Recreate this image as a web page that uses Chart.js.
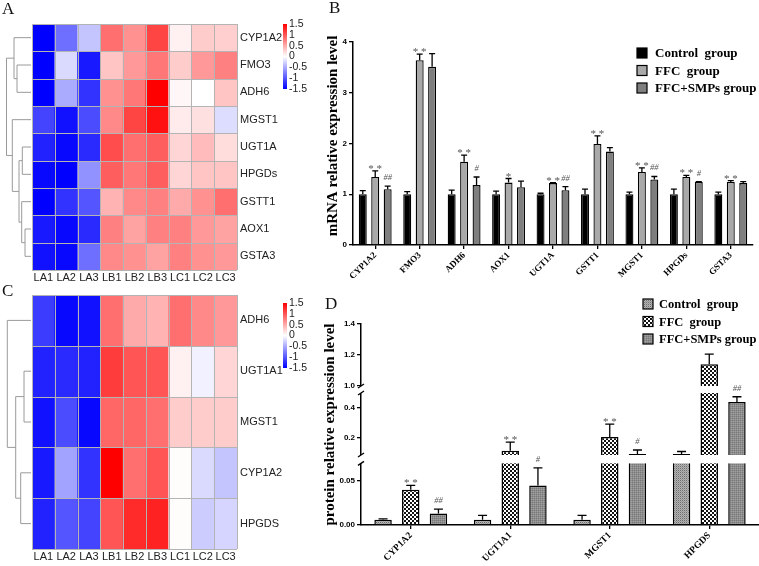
<!DOCTYPE html>
<html><head><meta charset="utf-8">
<script src="https://cdn.jsdelivr.net/npm/chart.js@4/dist/chart.umd.min.js"></script>
<style>
html,body{margin:0;padding:0;background:#fff;}
body{width:759px;height:566px;position:relative;overflow:hidden;}
.box{position:absolute;}
.box canvas{display:block;}
.lab{position:absolute;font-family:"Liberation Serif","Times New Roman",serif;font-size:17px;color:#111;line-height:1;}
</style></head><body>
<div class="box" style="left:0;top:0;"><canvas id="ca" width="330" height="285"></canvas></div>
<div class="box" style="left:0;top:280px;"><canvas id="cc" width="330" height="286"></canvas></div>
<div class="box" style="left:300px;top:0;"><canvas id="cb" width="459" height="285"></canvas></div>
<div class="box" style="left:300px;top:280px;"><canvas id="cd" width="459" height="286"></canvas></div>
<div class="lab" style="left:2px;top:0px;">A</div>
<div class="lab" style="left:329px;top:-1px;">B</div>
<div class="lab" style="left:2px;top:282px;">C</div>
<div class="lab" style="left:325px;top:295px;">D</div>
<script>
// ---------------- DATA ----------------
const heatCols = ['LA1','LA2','LA3','LB1','LB2','LB3','LC1','LC2','LC3'];
const colorbarLabels = ['1.5','1','0.5','0','-0.5','-1','-1.5'];

const heatRowsA = ['CYP1A2','FMO3','ADH6','MGST1','UGT1A','HPGDs','GSTT1','AOX1','GSTA3'];
const heatValsA = [
  [-1.5,-0.85,-0.35, 0.85, 0.65, 1.10, 0.08, 0.30, 0.28],
  [-1.5,-0.22,-1.35, 0.35, 0.60, 0.80, 0.30, 0.60, 0.75],
  [-1.5,-0.50,-1.20, 0.65, 0.80, 1.50, 0.05, 0.00, 0.35],
  [-1.10,-1.40,-1.05, 0.70, 1.10, 1.40, 0.12, 0.18,-0.20],
  [-1.30,-1.45,-1.25, 1.05, 0.85, 0.95, 0.25, 0.40, 0.20],
  [-1.45,-1.50,-0.65, 0.95, 0.80, 0.95, 0.25, 0.35, 0.35],
  [-1.50,-1.20,-1.00, 0.45, 0.70, 0.75, 0.50, 0.65, 0.85],
  [-1.35,-1.45,-1.25, 0.75, 0.55, 0.75, 0.75, 0.60, 0.55],
  [-1.40,-1.45,-0.85, 0.70, 0.65, 0.55, 0.75, 0.65, 0.60]
];
// linkage: [childA, childB, height]; leaves 0..n-1, new clusters n, n+1, ...
const dendroA = [[1,2,14],[0,9,17],[7,8,6],[6,11,9.3],[4,5,8.7],[13,12,12],[3,14,18.7],[10,15,24.5]];

const heatRowsC = ['ADH6','UGT1A1','MGST1','CYP1A2','HPGDS'];
const heatValsC = [
  [-1.15,-1.45,-1.40, 0.85, 0.50, 0.45, 0.85, 0.70, 0.60],
  [-1.30,-1.25,-1.30, 1.15, 1.00, 1.00, 0.08,-0.08, 0.25],
  [-1.40,-1.05,-1.45, 0.90, 0.90, 0.85, 0.30, 0.30, 0.30],
  [-1.35,-0.55,-1.20, 1.50, 0.85, 1.00, 0.02,-0.22,-0.35],
  [-1.30,-1.00,-1.10, 1.00, 1.25, 1.30, 0.02,-0.30,-0.25]
];
const dendroC = [[1,2,7],[3,4,10.3],[5,6,15.3],[0,7,23.7]];

const groupNames = ['Control  group','FFC  group','FFC+SMPs group'];

const genesB = ['CYP1A2','FMO3','ADH6','AOX1','UGT1A','GSTT1','MGST1','HPGDs','GSTA3'];
const ctrlB    = [1,1,1,1,1,1,1,1,1];
const ctrlErrB = [0.07,0.05,0.08,0.06,0.02,0.10,0.04,0.10,0.04];
const ffcB     = [1.34,3.64,1.64,1.23,1.22,1.99,1.44,1.34,1.24];
const ffcErrB  = [0.12,0.12,0.13,0.08,0.01,0.16,0.08,0.03,0.03];
const smpB     = [1.10,3.51,1.18,1.14,1.08,1.84,1.29,1.24,1.22];
const smpErrB  = [0.06,0.26,0.16,0.12,0.07,0.08,0.06,0.01,0.03];
const ffcNoteB = ['**','**','**','*','**','**','**','**','**'];
const smpNoteB = ['##','','#','','##','','##','#',''];

const genesD = ['CYP1A2','UGT1A1','MGST1','HPGDS'];
const ctrlD    = [0.006,0.006,0.006,0.093];
const ctrlErrD = [0.001,0.005,0.005,0.017];
const ffcD     = [0.040,0.115,0.207,1.14];
const ffcErrD  = [0.005,0.058,0.086,0.066];
const smpD     = [0.013,0.045,0.093,0.44];
const smpErrD  = [0.005,0.020,0.027,0.035];
const ffcNoteD = ['**','**','**',''];
const smpNoteD = ['##','#','#','##'];
const tickValsD   = [0, 0.05, 0.2, 0.4, 1.0, 1.2, 1.4];
const tickLabelsD = ['0.00','0.05','0.2','0.4','1.0','1.2','1.4'];

// ---------------- HELPERS ----------------
Chart.defaults.animation = false;
Chart.defaults.devicePixelRatio = 1;
Chart.defaults.plugins.legend.display = false;
Chart.defaults.plugins.tooltip.enabled = false;

function heatColor(v){
  const t = Math.max(-1, Math.min(1, v/1.5));
  if (t < 0){ const c = Math.round(255*(1+t)); return `rgb(${c},${c},255)`; }
  const c = Math.round(255*(1-t)); return `rgb(255,${c},${c})`;
}

const cellGrid = {
  id:'cellGrid',
  afterDatasetsDraw(chart){
    const {ctx, chartArea:a} = chart;
    const ys = chart.scales.y, nC = chart.data.labels.length, nR = chart.data.datasets.length;
    ctx.save(); ctx.strokeStyle = '#b4b4b4'; ctx.lineWidth = 1;
    for (let i=0;i<=nC;i++){ const x = Math.round(a.left + i*(a.right-a.left)/nC)+0.5; ctx.beginPath(); ctx.moveTo(x,a.top); ctx.lineTo(x,a.bottom); ctx.stroke(); }
    for (let j=0;j<=nR;j++){ const y = Math.round(ys.getPixelForValue(j))+0.5; ctx.beginPath(); ctx.moveTo(a.left,y); ctx.lineTo(a.right,y); ctx.stroke(); }
    ctx.restore();
  }
};

function dendroPlugin(links){
  return {
    id:'dendro',
    afterDraw(chart){
      const {ctx, chartArea:a} = chart;
      const ys = chart.scales.y, n = chart.data.datasets.length;
      const pos = [];
      for (let i=0;i<n;i++) pos.push({x:a.left-1, y:ys.getPixelForValue(i+0.5)});
      ctx.save(); ctx.strokeStyle = '#9a9a9a'; ctx.lineWidth = 1;
      links.forEach(([p,q,h])=>{
        const A = pos[p], B = pos[q], x = a.left - 1 - h;
        ctx.beginPath();
        ctx.moveTo(A.x, A.y); ctx.lineTo(x, A.y); ctx.lineTo(x, B.y); ctx.lineTo(B.x, B.y);
        ctx.stroke();
        pos.push({x:x, y:(A.y+B.y)/2});
      });
      ctx.restore();
    }
  };
}

function colorbarPlugin(dy){
  return {
    id:'cbar',
    afterDraw(chart){
      const {ctx, chartArea:a} = chart;
      const x = a.right + 46, y0 = a.top + dy, h = 65, w = 4;
      const g = ctx.createLinearGradient(0, y0, 0, y0+h);
      g.addColorStop(0, heatColor(1.5)); g.addColorStop(0.5, heatColor(0)); g.addColorStop(1, heatColor(-1.5));
      ctx.save(); ctx.fillStyle = g; ctx.fillRect(x, y0, w, h);
      ctx.fillStyle = '#222'; ctx.font = '10.5px "Liberation Sans", Arial, sans-serif';
      ctx.textBaseline = 'middle'; ctx.textAlign = 'left';
      colorbarLabels.forEach((t,i)=>{ ctx.fillText(t, x+w+2, y0 + i*h/(colorbarLabels.length-1)); });
      ctx.restore();
    }
  };
}

function heatChart(id, rows, vals, links, padTop, padBottom, cbDy){
  const datasets = rows.map((r,i)=>({
    label:r, data: heatCols.map(()=>1), backgroundColor: vals[i].map(heatColor),
    borderWidth:0, categoryPercentage:1, barPercentage:1, stack:'h'
  }));
  return new Chart(document.getElementById(id), {
    type:'bar',
    data:{labels:heatCols, datasets},
    options:{
      responsive:false,
      layout:{padding:{left:32, top:padTop, right:43, bottom:padBottom}},
      scales:{
        x:{stacked:true, grid:{display:false, drawTicks:false, tickLength:0}, border:{display:false},
           ticks:{font:{family:'"Liberation Sans", Arial', size:11}, color:'#222', padding:1, maxRotation:0, autoSkip:false},
           afterFit(s){ s.height = 14; }},
        y:{stacked:true, position:'right', reverse:true, min:0, max:rows.length,
           grid:{display:false, drawTicks:false, tickLength:0}, border:{display:false},
           afterBuildTicks(s){ s.ticks = rows.map((r,i)=>({value:i+0.5})); },
           ticks:{callback:(v)=>rows[Math.floor(v)], font:{family:'"Liberation Sans", Arial', size:11}, color:'#222', padding:3, autoSkip:false},
           afterFit(s){ s.width = 50; }}
      }
    },
    plugins:[cellGrid, dendroPlugin(links), colorbarPlugin(cbDy)]
  });
}

function errPlugin(tf, capW){
  return {
    id:'errbars',
    afterDatasetsDraw(chart){
      const {ctx} = chart, ys = chart.scales.y;
      ctx.save();
      chart.data.datasets.forEach((ds, di)=>{
        const meta = chart.getDatasetMeta(di);
        meta.data.forEach((el, j)=>{
          const v = ds.real[j], e = ds.errs[j];
          const yTop = ys.getPixelForValue(tf(v+e));
          ctx.strokeStyle = '#000'; ctx.lineWidth = 1.3;
          ctx.beginPath(); ctx.moveTo(el.x, el.y); ctx.lineTo(el.x, yTop);
          ctx.moveTo(el.x-capW, yTop); ctx.lineTo(el.x+capW, yTop); ctx.stroke();
          const note = ds.notes[j];
          if (note){
            ctx.fillStyle = '#555'; ctx.textAlign = 'center'; ctx.textBaseline = 'alphabetic';
            if (note[0] === '*'){ ctx.font = '11px "Liberation Serif", serif'; ctx.fillText(note.split('').join(' '), el.x, yTop + 1); }
            else { ctx.font = 'italic 8.5px "Liberation Serif", serif'; ctx.fillText(note, el.x, yTop - 6); }
          }
        });
      });
      ctx.restore();
    }
  };
}

function legendPlugin(lx, ly, dy, size, tx, font){
  return {
    id:'glegend',
    afterDraw(chart){
      const {ctx} = chart;
      ctx.save();
      chart.data.datasets.forEach((ds,i)=>{
        const y = ly + i*dy;
        ctx.fillStyle = ds.backgroundColor; ctx.fillRect(lx, y-size/2, size, size);
        ctx.strokeStyle = '#000'; ctx.lineWidth = 1.2; ctx.strokeRect(lx, y-size/2, size, size);
        ctx.fillStyle = '#000'; ctx.font = font; ctx.textBaseline = 'middle'; ctx.textAlign = 'left';
        ctx.fillText(ds.label, tx, y+1);
      });
      ctx.restore();
    }
  };
}

// ---------------- PANEL A & C ----------------
heatChart('ca', heatRowsA, heatValsA, dendroA, 24, 1, 0);
heatChart('cc', heatRowsC, heatValsC, dendroC, 15, 3, 8);

// ---------------- PANEL B ----------------
const ident = v => v;
const seriesB = [[ctrlB, ctrlErrB, [], '#000000'], [ffcB, ffcErrB, ffcNoteB, '#a9a9a9'], [smpB, smpErrB, smpNoteB, '#7f7f7f']];
new Chart(document.getElementById('cb'), {
  type:'bar',
  data:{labels:genesB, datasets: seriesB.map((s,i)=>({
    label:groupNames[i], data:s[0], real:s[0], errs:s[1], notes:s[2], backgroundColor:s[3],
    borderColor:'#000', borderWidth:1.3, categoryPercentage:0.84, barPercentage:0.64
  }))},
  options:{
    responsive:false,
    layout:{padding:{left:20, top:42, right:6, bottom:2}},
    scales:{
      x:{grid:{display:true, drawOnChartArea:false, offset:false, tickLength:4, color:'#000', lineWidth:1.3},
         border:{color:'#000', width:1.5},
         ticks:{font:{family:'"Liberation Serif", serif', weight:'bold', size:9}, color:'#000', minRotation:45, maxRotation:45, padding:1, autoSkip:false},
         afterFit(s){ s.height = 38; }},
      y:{min:0, max:4,
         ticks:{stepSize:1, font:{family:'"Liberation Sans", Arial', weight:'bold', size:8}, color:'#000', padding:2},
         grid:{drawOnChartArea:false, tickLength:4, color:'#000', lineWidth:1.3},
         border:{color:'#000', width:1.5},
         title:{display:true, text:'    mRNA relative expression level', font:{family:'"Liberation Serif", serif', weight:'bold', size:15}, color:'#000'},
         afterFit(s){ s.width = 33; }}
    }
  },
  plugins:[errPlugin(ident, 3), legendPlugin(337, 53, 17.5, 10, 355, 'bold 13px "Liberation Serif", serif')]
});

// ---------------- PANEL D (broken axis) ----------------
const segsD = [{v0:0, v1:0.07, d0:0, k:880}, {v0:0.0867, v1:0.5, d0:70, k:150}, {v0:1.0, v1:1.45, d0:139, k:155}];
function fwdD(v){
  for (let i=segsD.length-1;i>=0;i--){ if (v >= segsD[i].v0 - 1e-9) return segsD[i].d0 + (v - segsD[i].v0)*segsD[i].k; }
  return 0;
}
function makePattern(size, fn){
  const c = document.createElement('canvas'); c.width = c.height = size;
  const g = c.getContext('2d'); fn(g);
  return g.createPattern(c, 'repeat');
}
const patCtrl = makePattern(2, g=>{ g.fillStyle='#b4b4b4'; g.fillRect(0,0,2,2); g.fillStyle='#6c6c6c'; g.fillRect(0,0,1,1); g.fillStyle='#999'; g.fillRect(1,1,1,1); });
const patFFC  = makePattern(4, g=>{ g.fillStyle='#fff'; g.fillRect(0,0,4,4); g.fillStyle='#111'; g.fillRect(0,0,2,2); g.fillRect(2,2,2,2); });
const patSMP  = makePattern(2, g=>{ g.fillStyle='#8e8e8e'; g.fillRect(0,0,2,2); g.fillStyle='#777'; g.fillRect(0,0,1,1); g.fillStyle='#a0a0a0'; g.fillRect(1,1,1,1); });

const gapPlugin = {
  id:'gaps',
  afterDatasetsDraw(chart){
    const {ctx, chartArea:a} = chart, ys = chart.scales.y;
    ctx.save();
    for (let i=0;i<segsD.length-1;i++){
      const yLow = ys.getPixelForValue(fwdD(segsD[i].v1));
      const yHigh = ys.getPixelForValue(segsD[i+1].d0);
      ctx.fillStyle = '#fff'; ctx.fillRect(a.left-3, yHigh, a.right-a.left+3, yLow-yHigh);
      ctx.strokeStyle = '#000'; ctx.lineWidth = 1.3;
      [yLow, yHigh].forEach(y=>{ ctx.beginPath(); ctx.moveTo(a.left-3, y+2); ctx.lineTo(a.left+3, y-2); ctx.stroke(); });
    }
    ctx.restore();
  }
};

const seriesD = [[ctrlD, ctrlErrD, [], patCtrl], [ffcD, ffcErrD, ffcNoteD, patFFC], [smpD, smpErrD, smpNoteD, patSMP]];
new Chart(document.getElementById('cd'), {
  type:'bar',
  data:{labels:genesD, datasets: seriesD.map((s,i)=>({
    label:groupNames[i], data:s[0].map(fwdD), real:s[0], errs:s[1], notes:s[2], backgroundColor:s[3],
    borderColor:'#000', borderWidth:1.5, categoryPercentage:0.835, barPercentage:0.63
  }))},
  options:{
    responsive:false,
    layout:{padding:{left:17, top:44, right:0, bottom:3}},
    scales:{
      x:{grid:{display:true, drawOnChartArea:false, offset:false, tickLength:4, color:'#000', lineWidth:1.3},
         border:{color:'#000', width:1.5},
         ticks:{font:{family:'"Liberation Serif", serif', weight:'bold', size:9.5}, color:'#000', minRotation:45, maxRotation:45, padding:1, autoSkip:false},
         afterFit(s){ s.height = 38; }},
      y:{min:0, max:fwdD(1.4),
         afterBuildTicks(s){ s.ticks = tickValsD.map(v=>({value:fwdD(v)})); },
         ticks:{callback:(v, idx)=>tickLabelsD[idx], font:{family:'"Liberation Sans", Arial', weight:'bold', size:8}, color:'#000', padding:2, autoSkip:false},
         grid:{drawOnChartArea:false, tickLength:4, color:'#000', lineWidth:1.3},
         border:{color:'#000', width:1.5},
         title:{display:true, text:'protein relative expression level', font:{family:'"Liberation Serif", serif', weight:'bold', size:15}, color:'#000'},
         afterFit(s){ s.width = 44; }}
    }
  },
  plugins:[gapPlugin, errPlugin(fwdD, 4.5), legendPlugin(343, 24, 17.5, 10, 359, 'bold 12.5px "Liberation Serif", serif')]
});
</script>
</body></html>
